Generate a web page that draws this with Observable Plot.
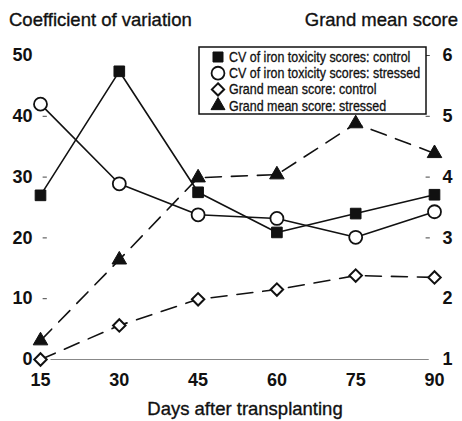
<!DOCTYPE html>
<html>
<head>
<meta charset="utf-8">
<script src="https://cdn.jsdelivr.net/npm/d3@7"></script>
<script src="https://cdn.jsdelivr.net/npm/@observablehq/plot@0.6"></script>
<style>
  html, body { margin: 0; padding: 0; background: #fff; }
  #wrap { position: relative; width: 462px; height: 421px; font-family: "Liberation Sans", Arial, sans-serif; color: #111; }
  .lab { position: absolute; font-size: 18.5px; line-height: 1; white-space: nowrap; -webkit-text-stroke: 0.35px #111; }
  svg { display: block; }
</style>
</head>
<body>
<div id="wrap"></div>
<script>
// ---- data ----
const days = [15, 30, 45, 60, 75, 90];
const cvControl = [27.0, 47.4, 27.5, 20.9, 24.0, 27.1];
const cvStressed = [42.0, 28.9, 23.8, 23.2, 20.1, 24.3];
const gmControl = [1.0, 1.56, 1.99, 2.15, 2.38, 2.35];
const gmStressed = [1.31, 2.64, 3.99, 4.04, 4.88, 4.39];
const leftTicks = [0, 10, 20, 30, 40, 50];
const rightTicks = [1, 2, 3, 4, 5, 6];
const seriesNames = [
  "CV of iron toxicity scores: control",
  "CV of iron toxicity scores: stressed",
  "Grand mean score: control",
  "Grand mean score: stressed"
];

// grand mean (1..6) shares the CV scale (0..50)
const gmToCv = g => (g - 1) * 10;
const rows = (vals, conv = v => v) => days.map((d, i) => ({day: d, v: conv(vals[i])}));
const sCvC = rows(cvControl);
const sCvS = rows(cvStressed);
const sGmC = rows(gmControl, gmToCv);
const sGmS = rows(gmStressed, gmToCv);

const tickFont = {fontSize: 18, fontWeight: "bold", fill: "#111"};

const chart = Plot.plot({
  width: 462,
  height: 421,
  marginLeft: 40,
  marginRight: 28,
  marginTop: 55,
  marginBottom: 62,
  style: {fontFamily: "'Liberation Sans', Arial, sans-serif", background: "#fff", color: "#111"},
  x: {domain: [15, 90]},
  y: {domain: [0, 50]},
  marks: [
    Plot.ruleY([0], {stroke: "#888", strokeWidth: 1, x1: 17, x2: 89}),
    // small inner tick marks
    Plot.ruleY(leftTicks.slice(1, 5), {x1: 15.5, x2: 16.3, stroke: "#444", strokeWidth: 1}),
    Plot.ruleY(rightTicks.slice(2, 6).map(gmToCv), {x1: 88.4, x2: 89.2, stroke: "#444", strokeWidth: 1}),
    Plot.axisY(leftTicks, {anchor: "left", tickSize: 0, tickPadding: 8, label: null, ...tickFont}),
    Plot.axisY(rightTicks.map(gmToCv), {anchor: "right", tickSize: 0, tickPadding: 8, label: null,
      tickFormat: d => String(d / 10 + 1), ...tickFont}),
    Plot.axisX(days, {tickSize: 0, tickPadding: 14, label: null, ...tickFont}),
    Plot.line(sGmC, {x: "day", y: "v", stroke: "#111", strokeWidth: 1.6, strokeDasharray: "16,10"}),
    Plot.line(sGmS, {x: "day", y: "v", stroke: "#111", strokeWidth: 1.6, strokeDasharray: "16,10"}),
    Plot.line(sCvC, {x: "day", y: "v", stroke: "#111", strokeWidth: 1.6}),
    Plot.line(sCvS, {x: "day", y: "v", stroke: "#111", strokeWidth: 1.6}),
    Plot.dot(sGmC, {x: "day", y: "v", symbol: "diamond2", r: 5.6, fill: "#fff", stroke: "#111", strokeWidth: 2}),
    Plot.dot(sGmS, {x: "day", y: "v", symbol: "triangle", r: 5.4, fill: "#111", stroke: "#111", strokeWidth: 1}),
    Plot.dot(sCvC, {x: "day", y: "v", symbol: "square", r: 6, fill: "#111", stroke: "#111", strokeWidth: 1}),
    Plot.dot(sCvS, {x: "day", y: "v", symbol: "circle", r: 6.5, fill: "#fff", stroke: "#111", strokeWidth: 1.8})
  ]
});

const wrap = document.getElementById("wrap");
wrap.appendChild(chart);

function addLabel(text, styles) {
  const d = document.createElement("div");
  d.className = "lab";
  d.textContent = text;
  Object.assign(d.style, styles);
  wrap.appendChild(d);
}
addLabel("Coefficient of variation", {left: "9px", top: "11px"});
addLabel("Grand mean score", {right: "4px", top: "11px"});
addLabel("Days after transplanting", {left: "0px", width: "490px", textAlign: "center", top: "400px"});

// legend
const lg = d3.select(wrap).append("svg")
  .attr("width", 232).attr("height", 72)
  .style("position", "absolute").style("left", "197px").style("top", "45px");
lg.append("rect").attr("x", 2).attr("y", 2).attr("width", 227).attr("height", 67)
  .attr("fill", "#fff").attr("stroke", "#111").attr("stroke-width", 1.5);
const legSyms = [
  {sym: d3.symbolSquare, size: 100, fill: "#111", stroke: "#111", sw: 1},
  {sym: d3.symbolCircle, size: 130, fill: "#fff", stroke: "#111", sw: 1.8},
  {sym: d3.symbolDiamond2, size: 95, fill: "#fff", stroke: "#111", sw: 2},
  {sym: d3.symbolTriangle, size: 85, fill: "#111", stroke: "#111", sw: 1}
];
seriesNames.forEach((name, i) => {
  const cy = 12 + i * 16.2;
  const s = legSyms[i];
  lg.append("path").attr("d", d3.symbol(s.sym, s.size)())
    .attr("transform", `translate(21,${cy})`)
    .attr("fill", s.fill).attr("stroke", s.stroke).attr("stroke-width", s.sw);
  lg.append("text").text(name)
    .attr("transform", `translate(32,${cy + 5}) scale(0.89,1)`)
    .attr("font-size", 14).attr("fill", "#111")
    .attr("stroke", "#111").attr("stroke-width", 0.3)
    .attr("font-family", "'Liberation Sans', Arial, sans-serif");
});
</script>
</body>
</html>
